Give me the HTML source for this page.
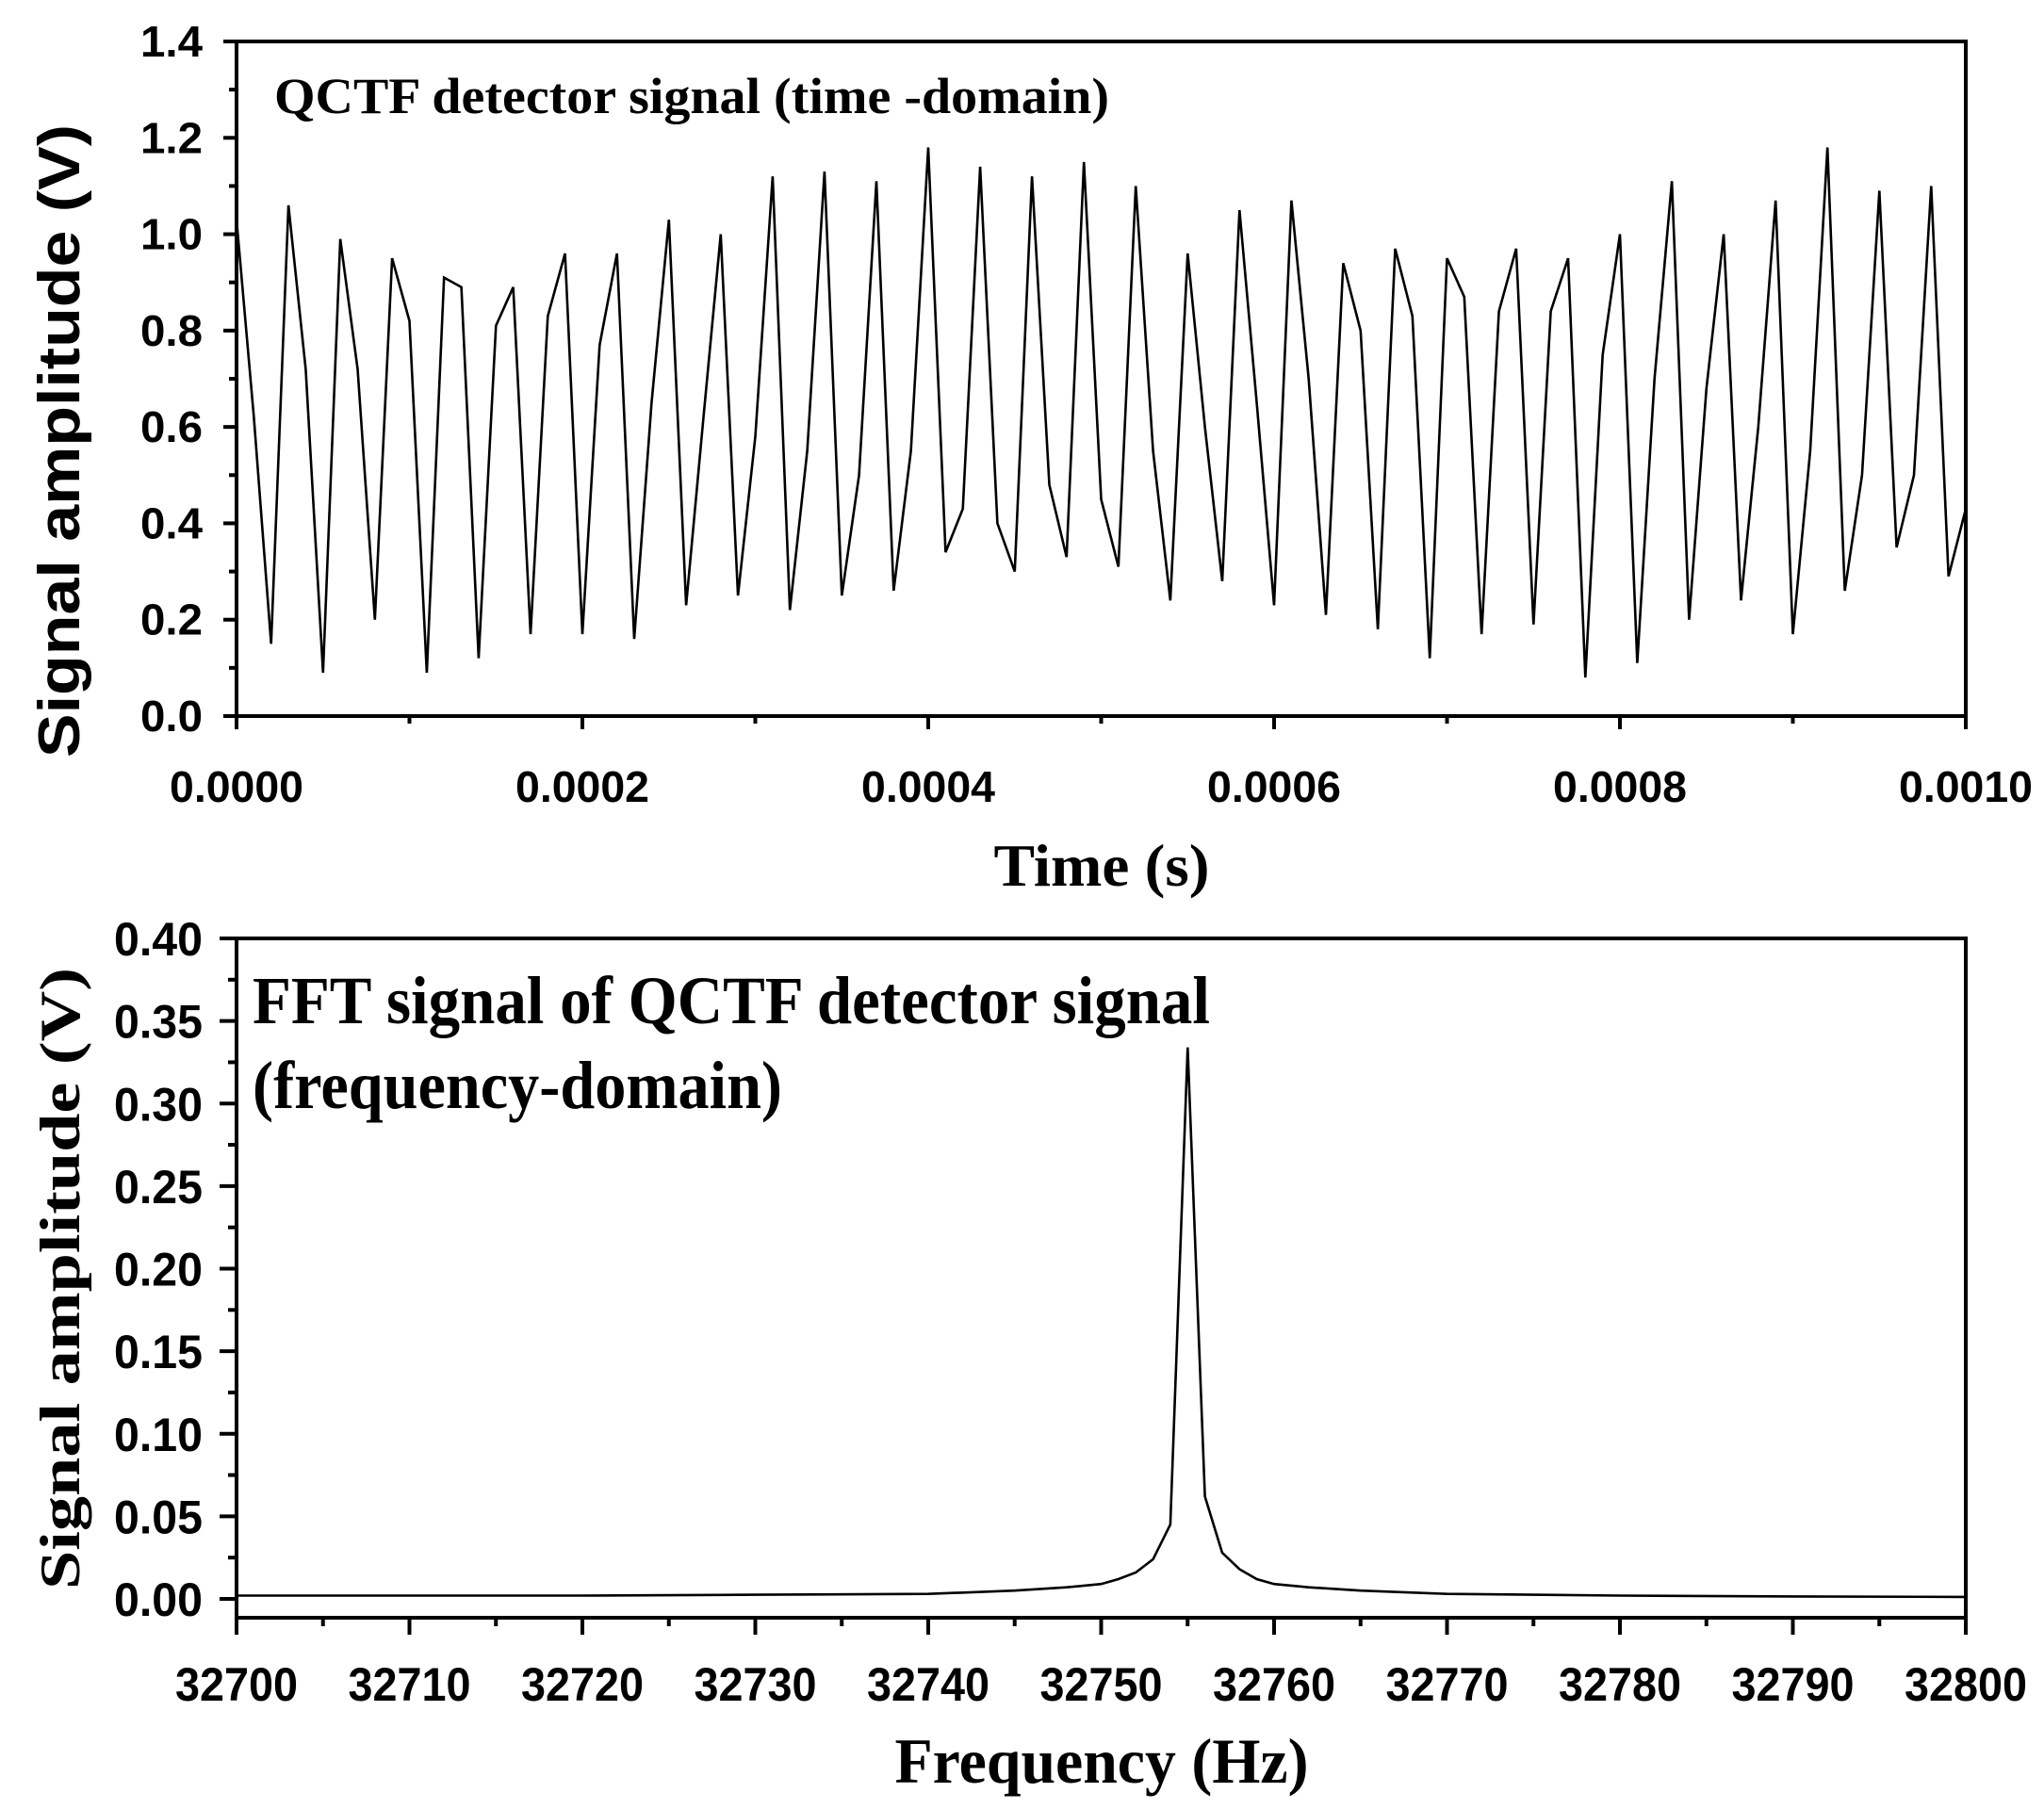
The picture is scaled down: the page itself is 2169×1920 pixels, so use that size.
<!DOCTYPE html>
<html><head><meta charset="utf-8"><style>
html,body{margin:0;padding:0;background:#fff;}
svg{display:block;}
.tk{font-family:"Liberation Sans",sans-serif;font-weight:bold;font-size:46px;}
.tkn{font-family:"Liberation Sans Narrow","Liberation Sans",sans-serif;font-weight:bold;font-size:50px;}
.sf{font-family:"Liberation Serif",serif;font-weight:bold;}
</style></head><body>
<svg id="fig" width="2169" height="1920" viewBox="0 0 2169 1920" xmlns="http://www.w3.org/2000/svg">
<g id="top"></g>
<g id="bot"></g>
</svg>
<script>
// ---- time-domain data ----
const timeStep = 0.00001;
const timeValues = [1.03,0.62,0.15,1.06,0.72,0.09,0.99,0.72,0.20,0.95,0.82,0.09,0.91,0.89,0.12,0.81,0.89,0.17,0.83,0.96,0.17,0.77,0.96,0.16,0.65,1.03,0.23,0.62,1.00,0.25,0.58,1.12,0.22,0.55,1.13,0.25,0.50,1.11,0.26,0.55,1.18,0.34,0.43,1.14,0.40,0.30,1.12,0.48,0.33,1.15,0.45,0.31,1.10,0.55,0.24,0.96,0.60,0.28,1.05,0.65,0.23,1.07,0.70,0.21,0.94,0.80,0.18,0.97,0.83,0.12,0.95,0.87,0.17,0.84,0.97,0.19,0.84,0.95,0.08,0.75,1.00,0.11,0.70,1.11,0.20,0.68,1.00,0.24,0.60,1.07,0.17,0.55,1.18,0.26,0.50,1.09,0.35,0.50,1.10,0.29,0.43];
const timeTickLabels = ["0.0000","0.0002","0.0004","0.0006","0.0008","0.0010"];
const ampTickLabels = ["0.0","0.2","0.4","0.6","0.8","1.0","1.2","1.4"];
// ---- frequency-domain data ----
const freqs = [32700,32710,32720,32730,32740,32745,32748,32750,32751,32752,32753,32754,32755,32756,32757,32758,32759,32760,32762,32765,32770,32780,32790,32800];
const fftValues = [0.002,0.002,0.002,0.0025,0.003,0.005,0.007,0.009,0.012,0.016,0.024,0.045,0.334,0.062,0.028,0.018,0.012,0.009,0.007,0.005,0.003,0.002,0.0015,0.0012];
const freqTickLabels = ["32700","32710","32720","32730","32740","32750","32760","32770","32780","32790","32800"];
const fftTickLabels = ["0.00","0.05","0.10","0.15","0.20","0.25","0.30","0.35","0.40"];

const NS="http://www.w3.org/2000/svg";
function mk(parent,tag,attrs,text){const e=document.createElementNS(NS,tag);for(const k in attrs)e.setAttribute(k,attrs[k]);if(text!==undefined)e.textContent=text;parent.appendChild(e);return e;}

// ===== Top chart =====
(function(){
const g=document.getElementById('top');
const L=251,R=2086,T=44,B=760;
const xs=t=>L+(t-0)/0.001*(R-L);
const ys=v=>B-(v-0)/1.4*(B-T);
for(let i=0;i<=14;i++){const v=i*0.1,y=ys(v),maj=i%2===0;
 const t=mk(g,'line',{x1:L-(maj?14:8),x2:L,y1:y,y2:y,stroke:'#000','stroke-width':4});
 }
ampTickLabels.forEach((s,i)=>{const t=mk(g,'text',{x:L-36,y:ys(i*0.2)+16,'text-anchor':'end',class:'tk',textLength:66,lengthAdjust:'spacingAndGlyphs'},s);
 });
for(let i=0;i<=10;i++){const x=xs(i*0.0001),maj=i%2===0;
 const t=mk(g,'line',{x1:x,x2:x,y1:B,y2:B+(maj?14:8),stroke:'#000','stroke-width':4});
 }
timeTickLabels.forEach((s,i)=>{const t=mk(g,'text',{x:xs(i*0.0002),y:851,'text-anchor':'middle',class:'tk',textLength:142,lengthAdjust:'spacingAndGlyphs'},s);
 });
const pts=timeValues.map((v,i)=>xs(i*timeStep).toFixed(1)+','+ys(v).toFixed(1)).join(' ');
const pl=mk(g,'polyline',{points:pts,fill:'none',stroke:'#000','stroke-width':2.6,'stroke-linejoin':'miter'});

const fr=mk(g,'rect',{x:L,y:T,width:R-L,height:B-T,fill:'none',stroke:'#000','stroke-width':4});

const an=mk(g,'text',{x:291,y:120,class:'sf','font-size':54,textLength:886,lengthAdjust:'spacingAndGlyphs'},'QCTF detector signal (time -domain)');

const xt=mk(g,'text',{x:1169,y:940,'text-anchor':'middle',class:'sf','font-size':64,textLength:229,lengthAdjust:'spacingAndGlyphs'},'Time (s)');

const yt=mk(g,'text',{x:0,y:0,'text-anchor':'middle',transform:'translate(84,468) rotate(-90)','font-family':'"Liberation Sans",sans-serif','font-weight':'bold','font-size':62,textLength:672,lengthAdjust:'spacingAndGlyphs'},'Signal amplitude (V)');

})();

// ===== Bottom chart =====
(function(){
const g=document.getElementById('bot');
const L=251,R=2086,T=996,B=1717;
const y0=1697,yPer=(y0-T)/0.40;
const xs=f=>L+(f-32700)/100*(R-L);
const ys=v=>y0-v*yPer;
for(let i=0;i<=16;i++){const y=ys(i*0.025),maj=i%2===0;
 const t=mk(g,'line',{x1:L-(maj?18:9),x2:L,y1:y,y2:y,stroke:'#000','stroke-width':4});
 }
fftTickLabels.forEach((s,i)=>{const t=mk(g,'text',{x:215,y:ys(i*0.05)+18,'text-anchor':'end',class:'tkn',textLength:94,lengthAdjust:'spacingAndGlyphs'},s);
 });
for(let i=0;i<=20;i++){const x=xs(32700+i*5),maj=i%2===0;
 const t=mk(g,'line',{x1:x,x2:x,y1:B,y2:B+(maj?18:9),stroke:'#000','stroke-width':4});
 }
freqTickLabels.forEach((s,i)=>{const t=mk(g,'text',{x:xs(32700+i*10),y:1805,'text-anchor':'middle',class:'tkn',textLength:130,lengthAdjust:'spacingAndGlyphs'},s);
 });
const pts=freqs.map((f,i)=>xs(f).toFixed(1)+','+ys(fftValues[i]).toFixed(1)).join(' ');
const pl=mk(g,'polyline',{points:pts,fill:'none',stroke:'#000','stroke-width':2.6});

const fr=mk(g,'rect',{x:L,y:T,width:R-L,height:B-T,fill:'none',stroke:'#000','stroke-width':4});

const a1=mk(g,'text',{x:268,y:1086,class:'sf','font-size':72,textLength:1016,lengthAdjust:'spacingAndGlyphs'},'FFT signal of QCTF detector signal');

const a2=mk(g,'text',{x:268,y:1176,class:'sf','font-size':72,textLength:562,lengthAdjust:'spacingAndGlyphs'},'(frequency-domain)');

const xt=mk(g,'text',{x:1169,y:1892,'text-anchor':'middle',class:'sf','font-size':68,textLength:439,lengthAdjust:'spacingAndGlyphs'},'Frequency (Hz)');

const yt=mk(g,'text',{x:0,y:0,'text-anchor':'middle',transform:'translate(84,1357) rotate(-90)',class:'sf','font-size':60,textLength:660,lengthAdjust:'spacingAndGlyphs'},'Signal amplitude  (V)');

})();
</script>
</body></html>
